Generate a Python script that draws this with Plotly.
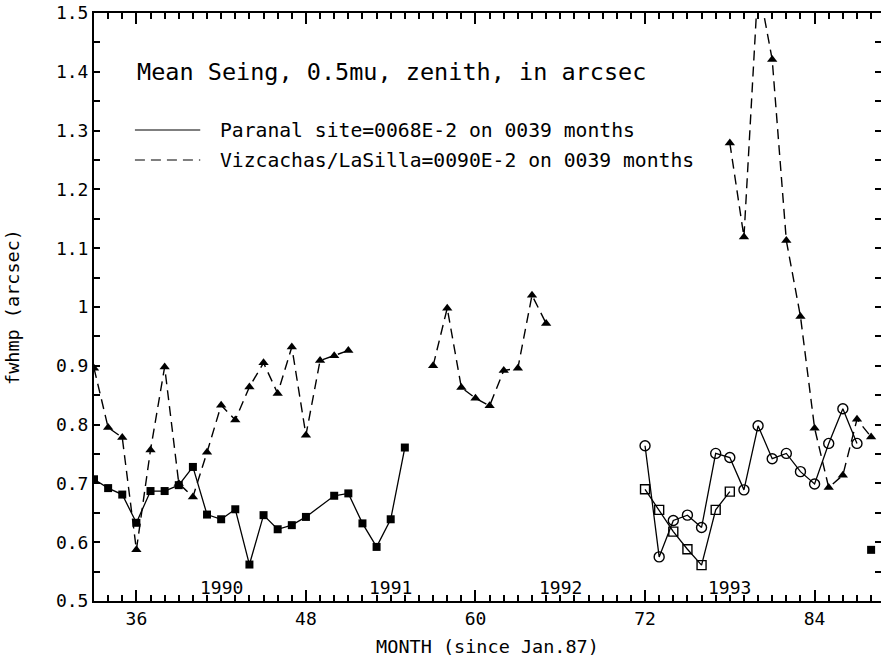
import plotly.graph_objects as go

# ---------------- data ----------------
paranal_months = [33, 34, 35, 36, 37, 38, 39, 40, 41, 42, 43, 44, 45, 46, 47, 48,
                  50, 51, 52, 53, 54, 55, None, 88]
paranal_values = [0.707, 0.692, 0.681, 0.633, 0.687, 0.687, 0.697, 0.728, 0.647, 0.639,
                  0.656, 0.562, 0.646, 0.622, 0.629, 0.643,
                  0.679, 0.683, 0.632, 0.592, 0.639, 0.761, None, 0.587]

vizcachas_months = [33, 34, 35, 36, 37, 38, 39, 40, 41, 42, 43, 44, 45, 46, 47, 48, 49, 50, 51,
                    None,
                    57, 58, 59, 60, 61, 62, 63, 64, 65,
                    None,
                    78, 79, 80, 81, 82, 83, 84, 85, 86, 87, 88]
vizcachas_values = [0.896, 0.795, 0.778, 0.587, 0.757, 0.898, 0.700, 0.677, 0.753, 0.833,
                    0.808, 0.864, 0.905, 0.853, 0.932, 0.782, 0.909, 0.917, 0.926,
                    None,
                    0.900, 0.998, 0.863, 0.845, 0.832, 0.892, 0.896, 1.020, 0.972,
                    None,
                    1.279, 1.119, 1.55, 1.421, 1.113, 0.984, 0.794, 0.693, 0.714, 0.809, 0.779]

circle_months = [72, 73, 74, 75, 76, 77, 78, 79, 80, 81, 82, 83, 84, 85, 86, 87]
circle_values = [0.764, 0.575, 0.637, 0.646, 0.625, 0.751, 0.744, 0.689, 0.798, 0.742,
                 0.751, 0.720, 0.699, 0.768, 0.827, 0.768]

square_months = [72, 73, 74, 75, 76, 77, 78]
square_values = [0.690, 0.655, 0.618, 0.588, 0.561, 0.655, 0.686]

x_tick_vals = [36, 48, 60, 72, 84]
x_tick_text = ["36", "48", "60", "72", "84"]
y_tick_vals = [0.5, 0.6, 0.7, 0.8, 0.9, 1.0, 1.1, 1.2, 1.3, 1.4, 1.5]
y_tick_text = ["0.5", "0.6", "0.7", "0.8", "0.9", "1", "1.1", "1.2", "1.3", "1.4", "1.5"]

year_labels = ["1990", "1991", "1992", "1993"]
year_months = [42, 54, 66, 78]

title_text = "Mean Seing, 0.5mu, zenith, in arcsec"
legend_texts = ["Paranal site=0068E-2 on 0039 months",
                "Vizcachas/LaSilla=0090E-2 on 0039 months"]

# ---------------- figure ----------------
FONT = "DejaVu Sans Mono"
INK = "black"

fig = go.Figure()

fig.add_trace(go.Scatter(
    x=vizcachas_months, y=vizcachas_values, mode="lines+markers",
    line=dict(color=INK, width=1.4, dash="10px,6px"),
    marker=dict(symbol="triangle-up", size=9, color=INK),
    connectgaps=False, showlegend=False, cliponaxis=True))

fig.add_trace(go.Scatter(
    x=paranal_months, y=paranal_values, mode="lines+markers",
    line=dict(color=INK, width=1.3),
    marker=dict(symbol="square", size=8, color=INK),
    connectgaps=False, showlegend=False))

fig.add_trace(go.Scatter(
    x=circle_months, y=circle_values, mode="lines+markers",
    line=dict(color=INK, width=1.3),
    marker=dict(symbol="circle-open", size=10, color=INK, line=dict(width=1.4)),
    showlegend=False))

fig.add_trace(go.Scatter(
    x=square_months, y=square_values, mode="lines+markers",
    line=dict(color=INK, width=1.3),
    marker=dict(symbol="square-open", size=9, color=INK, line=dict(width=1.4)),
    showlegend=False))

# invisible trace to carry the right-hand tick axis
fig.add_trace(go.Scatter(x=[None], y=[None], yaxis="y2", showlegend=False))

# year labels inside the plot
for yr, m in zip(year_labels, year_months):
    fig.add_annotation(x=m, y=0.5, xref="x", yref="y", text=yr, showarrow=False,
                       yanchor="bottom", yshift=1, font=dict(family=FONT, size=18, color=INK))

# title text inside the plot
fig.add_annotation(x=0.052, y=0.90, xref="paper", yref="paper", text=title_text,
                   showarrow=False, xanchor="left", yanchor="middle",
                   font=dict(family=FONT, size=23.5, color=INK))

# legend (line samples + text)
legend_y = [0.801, 0.750]
legend_dash = ["solid", "10px,6px"]
for txt, ly, dsh in zip(legend_texts, legend_y, legend_dash):
    fig.add_shape(type="line", xref="paper", yref="paper", x0=0.052, x1=0.135, y0=ly, y1=ly,
                  line=dict(color=INK, width=1.2, dash=dsh))
    fig.add_annotation(x=0.1576, y=ly, xref="paper", yref="paper", text=txt, showarrow=False,
                       xanchor="left", yanchor="middle",
                       font=dict(family=FONT, size=19.7, color=INK))

fig.update_layout(
    width=882, height=661,
    margin=dict(l=94, r=1, t=13, b=60, pad=0),
    paper_bgcolor="white", plot_bgcolor="white",
    font=dict(family=FONT, size=18, color=INK),
    xaxis=dict(
        range=[33, 88.7], showline=True, linewidth=2, linecolor=INK, mirror="ticks",
        ticks="inside", ticklen=11, tickwidth=2, tickcolor=INK,
        tickvals=x_tick_vals, ticktext=x_tick_text,
        tickfont=dict(family=FONT, size=18, color=INK),
        minor=dict(tickmode="linear", ticks="inside", ticklen=6, tickwidth=1.5,
                   tickcolor=INK, dtick=1, tick0=33),
        showgrid=False, zeroline=False,
        title=dict(text="MONTH (since Jan.87)", standoff=12,
                   font=dict(family=FONT, size=18.5, color=INK)),
    ),
    yaxis=dict(
        range=[0.5, 1.5], showline=True, linewidth=2, linecolor=INK, mirror=False,
        ticks="inside", ticklen=6, tickwidth=2, tickcolor=INK,
        tickvals=y_tick_vals, ticktext=y_tick_text,
        tickfont=dict(family=FONT, size=18, color=INK),
        minor=dict(tickmode="linear", ticks="inside", ticklen=6, tickwidth=1.5,
                   tickcolor=INK, dtick=0.05, tick0=0.5),
        showgrid=False, zeroline=False,
        title=dict(text="fwhmp (arcsec)", standoff=31,
                   font=dict(family=FONT, size=18.5, color=INK)),
    ),
    yaxis2=dict(
        range=[0.5, 1.5], overlaying="y", side="right", anchor="x",
        showline=False, showgrid=False, zeroline=False, showticklabels=False,
        ticks="inside", ticklen=6, tickwidth=1.5, tickcolor=INK,
        tickmode="linear", tick0=0.5, dtick=0.05,
    ),
)

fig.write_html("out.html", config={"displayModeBar": False},
               post_script="document.body.style.margin='0';")
